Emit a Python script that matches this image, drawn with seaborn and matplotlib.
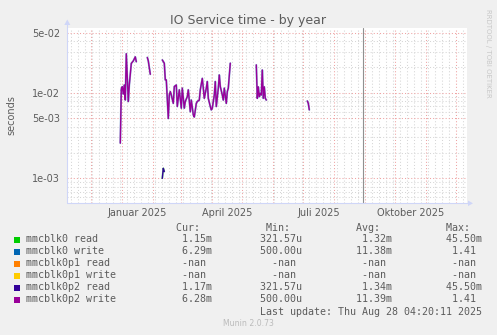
import numpy as np
import pandas as pd
import matplotlib
matplotlib.use("Agg")
import matplotlib.pyplot as plt
import matplotlib.dates as mdates
import matplotlib.ticker as mticker
from matplotlib.patches import Rectangle, Polygon
from matplotlib.lines import Line2D
import seaborn as sns

BASE = pd.Timestamp("2025-01-01")

# Daily write service time (seconds), given as days after BASE; NaN marks a gap
write_days = [-2, -1, 0, 1, 2, 3, 4, 6, 7, 9, 11, 13, 14, np.nan,
              25, 26, 28, np.nan,
              40, 42, 43, 44, 46, 47, 48, 49, 51, 52, 54, 55, 57, 59, 60, 62,
              63, 65, 66, 68, 69, 71, 72, 74, 75, 77, 78, 80, 81, 82, 84, 85,
              86, 88, 89, 90, 92, 93, 94, 96, 97, 98, 100, 101, 102, 104, 105,
              106, 108, np.nan,
              134, 135, 136, 137, 138, 139, 140, 141, 142, 143, 144, np.nan,
              185, 186, 187]
p2_write = [0.00258, 0.01105, 0.01175, 0.00966, 0.01230, 0.00822, 0.0285, 0.0079,
            0.0123, 0.0220, 0.0235, 0.0262, 0.0230, np.nan,
            0.0258, 0.0235, 0.0164, np.nan,
            0.0241, 0.0221, 0.0141, 0.0141, 0.0050, 0.0094, 0.0103, 0.0094,
            0.0075, 0.0118, 0.0123, 0.0069, 0.0108, 0.0066, 0.0113, 0.0066,
            0.0079, 0.0090, 0.0108, 0.0060, 0.0082, 0.0055, 0.0052, 0.0075,
            0.0079, 0.0082, 0.0108, 0.0147, 0.0113, 0.0086, 0.0113, 0.0135,
            0.0086, 0.0069, 0.0063, 0.0066, 0.0094, 0.0135, 0.0069, 0.0113,
            0.0161, 0.0118, 0.0094, 0.0082, 0.0113, 0.0075, 0.0103,
            0.0113, 0.0221, np.nan,
            0.0211, 0.0086, 0.0117, 0.0090, 0.0098, 0.0094, 0.0184, 0.0086,
            0.0117, 0.0086, 0.0082, np.nan,
            0.0080, 0.0075, 0.0063]
# the whole device carries the same traffic as its second partition
mmcblk0_write = list(p2_write)

# Daily read service time (seconds)
read_days = [40, 41, 42]
p2_read = [0.00100, 0.00131, 0.00120]
mmcblk0_read = list(p2_read)

NOW_MARK = pd.Timestamp("2025-08-29 10:00")

series_names = ["mmcblk0 read", "mmcblk0 write", "mmcblk0p1 read",
                "mmcblk0p1 write", "mmcblk0p2 read", "mmcblk0p2 write"]
series_colors = ["#00CC00", "#0066B3", "#FF8000", "#FFCC00", "#330099", "#990099"]
cur_vals = ["1.15m", "6.29m", "-nan", "-nan", "1.17m", "6.28m"]
min_vals = ["321.57u", "500.00u", "-nan", "-nan", "321.57u", "500.00u"]
avg_vals = ["1.32m", "11.38m", "-nan", "-nan", "1.34m", "11.39m"]
max_vals = ["45.50m", "1.41", "-nan", "-nan", "45.50m", "1.41"]

y_major = [1e-3, 5e-3, 1e-2, 5e-2]
y_major_labels = ["1e-03", "5e-03", "1e-02", "5e-02"]
y_minor = [6e-4, 7e-4, 8e-4, 9e-4, 2e-3, 3e-3, 4e-3, 6e-3, 7e-3, 8e-3, 9e-3,
           2e-2, 3e-2, 4e-2]
x_label_dates = ["2025-01-16", "2025-04-16", "2025-07-16", "2025-10-16"]
x_label_text = ["Januar 2025", "April 2025", "Juli 2025", "Oktober 2025"]

W, H = 497, 335
sns.set_style("white")
plt.rcParams["font.family"] = ["DejaVu Sans"]

BG = "#F0F0F0"
FONT = "#5C5C5C"
AXIS_C = "#CFD6F8"
MGRID = "#EFA3A3"
GRID = "#D6D6D6"


def fx(px):
    return px / W


def fy(py):
    return 1 - py / H


def frame(days, vals):
    d = np.asarray(days, dtype=float)
    v = np.asarray(vals, dtype=float)
    seg = np.cumsum(np.isnan(d))
    keep = ~np.isnan(d)
    return pd.DataFrame({
        "date": BASE + pd.to_timedelta(d[keep], unit="D"),
        "secs": v[keep],
        "seg": seg[keep],
    })


fig = plt.figure(figsize=(W / 100, H / 100), dpi=100, facecolor=BG)
x0, x1, ytop, ybot = 67, 467, 27.7, 203.3
ax = fig.add_axes([fx(x0), fy(ybot), (x1 - x0) / W, (ybot - ytop) / H])
ax.set_facecolor("white")

ax.set_yscale("log")
ax.set_ylim(5.11e-4, 0.0574)
ax.set_xlim(BASE + pd.Timedelta(days=-55.3), BASE + pd.Timedelta(days=344.7))

# grid: months in red, Mondays in grey, decades and halves in red
ax.xaxis.set_major_locator(mdates.MonthLocator())
mondays = [d for d in pd.date_range("2024-10-28", "2025-12-31", freq="W-MON") if d.day != 1]
ax.xaxis.set_minor_locator(mticker.FixedLocator(mdates.date2num(mondays)))
ax.xaxis.set_major_formatter(mticker.NullFormatter())
ax.xaxis.set_minor_formatter(mticker.NullFormatter())
ax.set_yticks(y_major, labels=y_major_labels)
ax.set_yticks(y_minor, minor=True)
ax.yaxis.set_minor_formatter(mticker.NullFormatter())

dots = (0, (1, 2))
ax.grid(which="major", color=MGRID, linestyle=dots, linewidth=0.75)
ax.grid(which="minor", color=GRID, linestyle=dots, linewidth=0.75)
ax.set_axisbelow(True)
ax.tick_params(which="major", length=2, width=0.75, color=MGRID, pad=3,
               labelsize=7, labelcolor=FONT)
ax.tick_params(which="minor", length=2, width=0.75, color=GRID)
for s in ax.spines.values():
    s.set_visible(False)

# data lines, in legend order so later series sit on top
plot_sets = [
    (read_days, mmcblk0_read, series_colors[0], 1.3, 0.5),
    (write_days, mmcblk0_write, series_colors[1], 1.4, 0.45),
    (read_days, p2_read, series_colors[4], 1.0, 1.0),
    (write_days, p2_write, series_colors[5], 1.0, 1.0),
]
for days, vals, col, lw, alpha in plot_sets:
    sns.lineplot(data=frame(days, vals), x="date", y="secs", units="seg",
                 estimator=None, color=col, linewidth=lw, alpha=alpha, ax=ax,
                 legend=False)
ax.axvline(NOW_MARK, color="#909090", linewidth=0.8)
ax.set_xlabel("")
ax.set_ylabel("")

# month labels sit mid-month
xt = ax.get_xaxis_transform()
lab_y = (ybot - 212.5) / (ybot - ytop)
for d, t in zip(x_label_dates, x_label_text):
    ax.text(pd.Timestamp(d), lab_y, t, transform=xt, ha="center", va="center",
            fontsize=7, color=FONT, clip_on=False)

# axis lines with arrow heads
fig.add_artist(Line2D([fx(67.3), fx(67.3)], [fy(ybot), fy(24)], color=AXIS_C, lw=0.8))
fig.add_artist(Line2D([fx(67), fx(469)], [fy(203.3), fy(203.3)], color=AXIS_C, lw=0.8))
fig.add_artist(Polygon([(fx(67.3), fy(19.5)), (fx(64.3), fy(25)), (fx(70.3), fy(25))],
                       closed=True, color=AXIS_C, lw=0))
fig.add_artist(Polygon([(fx(473), fy(203.3)), (fx(468), fy(200.5)), (fx(468), fy(206.1))],
                       closed=True, color=AXIS_C, lw=0))

fig.text(fx(248.5), fy(23.8), "IO Service time - by year", ha="center",
         va="baseline", fontsize=9, color=FONT)
fig.text(fx(11), fy(115.5), "seconds", rotation=90, ha="center", va="center",
         fontsize=7, color=FONT)
fig.text(fx(488), fy(53), "RRDTOOL / TOBI OETIKER", rotation=270, ha="center",
         va="center", fontsize=5, color="#C8C8C8")
fig.text(fx(248), fy(324), "Munin 2.0.73", ha="center", va="center",
         fontsize=5.6, color="#BBBBBB")

# legend table
mono = dict(family="DejaVu Sans Mono", fontsize=7.17, color=FONT)


def field(s):
    if s[-1] in "mu":
        num, unit = s[:-1], s[-1]
    else:
        num, unit = s, " "
    return num.rjust(6) + unit


gap = " " * 8
header = " " * 25 + "Cur:" + " " * 11 + "Min:" + " " * 11 + "Avg:" + " " * 11 + "Max:"
fig.text(fx(26), fy(227.7), header, ha="left", va="center", **mono)
for i, name in enumerate(series_names):
    yc = 239.5 + 12 * i
    line = (name.ljust(24) + field(cur_vals[i]) + gap + field(min_vals[i]) + gap
            + field(avg_vals[i]) + gap + field(max_vals[i]))
    fig.text(fx(26), fy(yc), line, ha="left", va="center", **mono)
    fig.add_artist(Rectangle((fx(13.8), fy(yc + 3.2)), 6 / W, 6 / H,
                             color=series_colors[i], lw=0))
fig.text(fx(26), fy(312.3), " " * 39 + "Last update: Thu Aug 28 04:20:11 2025",
         ha="left", va="center", **mono)

fig.savefig("out.png", dpi=100, facecolor=BG)
